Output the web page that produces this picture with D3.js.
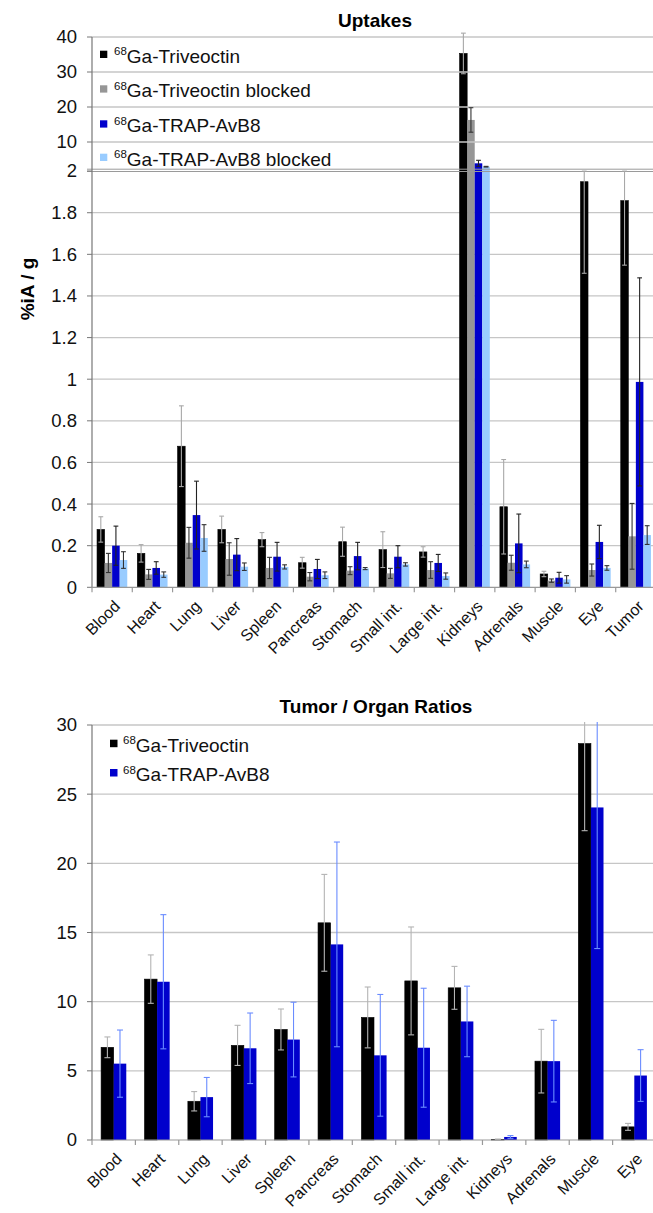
<!DOCTYPE html>
<html><head><meta charset="utf-8">
<script src="https://cdn.jsdelivr.net/npm/d3@7"></script>
<style>
html,body{margin:0;padding:0;background:#fff;}
svg text{font-family:"Liberation Sans",Arial,sans-serif;}
</style></head>
<body>
<script>
// ---------- DATA ----------
const organsUptake = ["Blood","Heart","Lung","Liver","Spleen","Pancreas","Stomach","Small int.","Large int.","Kidneys","Adrenals","Muscle","Eye","Tumor"];
const seriesUptake = ["Ga-Triveoctin","Ga-Triveoctin blocked","Ga-TRAP-AvB8","Ga-TRAP-AvB8 blocked"];
const triveoctin      = [0.278,0.163,0.678,0.278,0.229,0.118,0.219,0.181,0.170,35.3,0.387,0.064,1.949,1.858];
const triveoctinErr   = [0.061,0.042,0.194,0.064,0.034,0.026,0.070,0.086,0.025,5.8,0.227,0.013,0.44,0.31];
const triveoctinBlk   = [0.117,0.062,0.214,0.136,0.093,0.051,0.080,0.067,0.083,16.3,0.118,0.032,0.083,0.245];
const triveoctinBlkErr= [0.046,0.024,0.074,0.078,0.051,0.020,0.019,0.024,0.040,3.5,0.036,0.008,0.029,0.158];
const trap            = [0.200,0.093,0.347,0.157,0.147,0.088,0.150,0.147,0.117,3.91,0.211,0.046,0.218,0.987];
const trapErr         = [0.094,0.030,0.163,0.077,0.069,0.046,0.066,0.053,0.041,0.86,0.141,0.026,0.080,0.50];
const trapBlk         = [0.131,0.061,0.237,0.099,0.098,0.058,0.090,0.110,0.054,2.94,0.110,0.038,0.093,0.251];
const trapBlkErr      = [0.040,0.013,0.064,0.018,0.010,0.016,0.005,0.008,0.015,0.10,0.016,0.018,0.011,0.045];
const uptakeTicksLow  = [0,0.2,0.4,0.6,0.8,1,1.2,1.4,1.6,1.8];
const uptakeTicksHigh = [2,10,20,30,40];

const organsRatio = ["Blood","Heart","Lung","Liver","Spleen","Pancreas","Stomach","Small int.","Large int.","Kidneys","Adrenals","Muscle","Eye"];
const seriesRatio = ["Ga-Triveoctin","Ga-TRAP-AvB8"];
const ratioTriveoctin    = [6.70,11.63,2.80,6.84,7.99,15.70,8.86,11.50,11.00,0.05,5.70,28.66,0.95];
const ratioTriveoctinErr = [0.75,1.75,0.70,1.45,1.48,3.50,2.20,3.90,1.55,0.02,2.30,6.30,0.25];
const ratioTrap          = [5.52,11.44,3.10,6.63,7.26,14.14,6.12,6.67,8.57,0.22,5.70,24.04,4.66];
const ratioTrapErr       = [2.43,4.85,1.42,2.55,2.70,7.40,4.40,4.30,2.55,0.10,2.95,10.20,1.87];
const ratioTicks = [0,5,10,15,20,25,30];

// ---------- SETUP ----------
const svg = d3.select("body").append("svg").attr("width",653).attr("height",1213);
const gridCol = "#c6c6c6";
const TICK_FS = 18.5, LEG_FS = 19, TITLE_FS = 19, CAT_FS = 16;

// ================= TOP CHART =================
const topColors = ["#000000","#969696","#0000cc","#99ccff"];
const topErrCol = ["#a8a8a8","#333333","#222222","#333333"];
const topVals = [triveoctin,triveoctinBlk,trap,trapBlk];
const topErrs = [triveoctinErr,triveoctinBlkErr,trapErr,trapBlkErr];

const xT = d3.scaleBand().domain(organsUptake).range([92,656]);
const xsT = d3.scaleBand().domain(seriesUptake).range([xT.bandwidth()*0.125, xT.bandwidth()*0.875]);
const yLow = d3.scaleLinear().domain([0,2]).range([587.3,171.1]);
const yUp = d3.scaleLinear().domain([2,40]).range([170,37]);
const yf = v => v <= 2 ? yLow(v) : yUp(v);

const gT = svg.append("g");
gT.selectAll("line.gl").data(uptakeTicksLow.slice(1)).join("line")
  .attr("x1",92).attr("x2",656).attr("y1",d=>yLow(d)).attr("y2",d=>yLow(d))
  .attr("stroke",gridCol).attr("stroke-width",1.3);

seriesUptake.forEach((s,si)=>{
  gT.append("g").selectAll("rect").data(organsUptake).join("rect")
    .attr("x",(c)=>xT(c)+xsT(s))
    .attr("width",xsT.bandwidth())
    .attr("y",(c,i)=>yf(topVals[si][i]))
    .attr("height",(c,i)=>yLow(0)-yf(topVals[si][i]))
    .attr("fill",topColors[si])
    .attr("stroke",si===0?"#000":"none").attr("stroke-width",0.6);
});
gT.selectAll("line.gu").data(uptakeTicksHigh.slice(1)).join("line")
  .attr("x1",92).attr("x2",656).attr("y1",d=>yUp(d)).attr("y2",d=>yUp(d))
  .attr("stroke",gridCol).attr("stroke-width",1.3);
[yUp(2)-0.8, yLow(2)+0.4].forEach(yy=>{
  gT.append("line").attr("x1",87).attr("x2",656).attr("y1",yy).attr("y2",yy)
    .attr("stroke","#9a9a9a").attr("stroke-width",1);
});

seriesUptake.forEach((s,si)=>{
  const ge = gT.append("g").attr("stroke",topErrCol[si]).attr("stroke-width",1.1);
  organsUptake.forEach((c,i)=>{
    const v = topVals[si][i], e = topErrs[si][i];
    const cx = xT(c)+xsT(s)+xsT.bandwidth()/2;
    let yHi, yLo;
    if (v <= 2) { yHi = yLow(Math.min(v+e,2)); yLo = yLow(Math.max(v-e,0)); }
    else { yHi = yUp(v+e); yLo = yUp(Math.max(v-e,2)); }
    ge.append("line").attr("x1",cx).attr("x2",cx).attr("y1",yHi).attr("y2",yLo);
    [yHi,yLo].forEach(yy=>ge.append("line").attr("x1",cx-2.4).attr("x2",cx+2.4).attr("y1",yy).attr("y2",yy));
  });
});

gT.append("line").attr("x1",92).attr("x2",92).attr("y1",37).attr("y2",yLow(0)).attr("stroke","#777").attr("stroke-width",1.2);
gT.append("line").attr("x1",92).attr("x2",656).attr("y1",yLow(0)).attr("y2",yLow(0)).attr("stroke","#999").attr("stroke-width",1.2);
gT.selectAll("g.tl").data(uptakeTicksLow).join("g").each(function(d){
  const g = d3.select(this), yy = yLow(d);
  g.append("line").attr("x1",87).attr("x2",92).attr("y1",yy).attr("y2",yy).attr("stroke","#777");
  g.append("text").attr("x",77).attr("y",yy).attr("dy","0.35em").attr("text-anchor","end")
    .attr("font-size",TICK_FS).attr("fill","#111").text(d3.format("~g")(d));
});
gT.selectAll("g.th").data(uptakeTicksHigh).join("g").each(function(d){
  const g = d3.select(this), yy = d===2 ? yUp(2)+1 : yUp(d);
  g.append("line").attr("x1",87).attr("x2",92).attr("y1",yy).attr("y2",yy).attr("stroke","#777");
  g.append("text").attr("x",77).attr("y",yy).attr("dy","0.35em").attr("text-anchor","end")
    .attr("font-size",TICK_FS).attr("fill","#111").text(d);
});
const bT = organsUptake.map(c=>xT(c)).concat([656]);
gT.selectAll("line.xt").data(bT).join("line")
  .attr("x1",d=>d).attr("x2",d=>d).attr("y1",yLow(0)).attr("y2",yLow(0)+5).attr("stroke","#999").attr("stroke-width",1.2);
gT.selectAll("text.xl").data(organsUptake).join("text")
  .attr("transform",d=>`translate(${xT(d)+xT.bandwidth()/2+9},${yLow(0)+20}) rotate(-45)`)
  .attr("text-anchor","end").attr("font-size",CAT_FS).attr("fill","#111").text(d=>d);
gT.append("text").attr("x",375).attr("y",27).attr("text-anchor","middle").attr("font-weight","bold")
  .attr("font-size",TITLE_FS).text("Uptakes");
gT.append("text").attr("transform","translate(34,289) rotate(-90)").attr("text-anchor","middle")
  .attr("font-weight","bold").attr("font-size",TITLE_FS).text("%iA / g");
const legTopY = [62.7,97.3,132.3,165.7];
seriesUptake.forEach((s,si)=>{
  gT.append("rect").attr("x",100).attr("y",legTopY[si]-12).attr("width",7.3).attr("height",7.3).attr("fill",topColors[si]);
  const t = gT.append("text").attr("x",114).attr("y",legTopY[si]).attr("fill","#111");
  t.append("tspan").attr("font-size",11.5).attr("dy",-7.5).text("68");
  t.append("tspan").attr("font-size",LEG_FS).attr("dy",7.5).text(s);
});

// ================= BOTTOM CHART =================
const botColors = ["#000000","#0000cc"];
const botErrCol = ["#b4b4b4","#6a8cff"];
const botVals = [ratioTriveoctin, ratioTrap];
const botErrs = [ratioTriveoctinErr, ratioTrapErr];
const xB = d3.scaleBand().domain(organsRatio).range([92,656]);
const xsB = d3.scaleBand().domain(seriesRatio).range([xB.bandwidth()*0.21, xB.bandwidth()*0.79]);
const yB = d3.scaleLinear().domain([0,30]).range([1140,725]);
const gB = svg.append("g");
gB.selectAll("line.g").data(ratioTicks.slice(1)).join("line")
  .attr("x1",92).attr("x2",656).attr("y1",d=>yB(d)).attr("y2",d=>yB(d))
  .attr("stroke",gridCol).attr("stroke-width",1.3);
seriesRatio.forEach((s,si)=>{
  gB.append("g").selectAll("rect").data(organsRatio).join("rect")
    .attr("x",c=>xB(c)+xsB(s)).attr("width",xsB.bandwidth())
    .attr("y",(c,i)=>yB(botVals[si][i])).attr("height",(c,i)=>yB(0)-yB(botVals[si][i]))
    .attr("fill",botColors[si]).attr("stroke",si===0?"#000":"none").attr("stroke-width",0.6);
});
seriesRatio.forEach((s,si)=>{
  const ge = gB.append("g").attr("stroke",botErrCol[si]).attr("stroke-width",1.1);
  organsRatio.forEach((c,i)=>{
    const v = botVals[si][i], e = botErrs[si][i];
    const cx = xB(c)+xsB(s)+xsB.bandwidth()/2;
    const clipped = v+e > 30.2;
    const yHi = clipped ? 722 : yB(v+e), yLo = yB(Math.max(v-e,0));
    ge.append("line").attr("x1",cx).attr("x2",cx).attr("y1",yHi).attr("y2",yLo);
    if(!clipped) ge.append("line").attr("x1",cx-3).attr("x2",cx+3).attr("y1",yHi).attr("y2",yHi);
    ge.append("line").attr("x1",cx-3).attr("x2",cx+3).attr("y1",yLo).attr("y2",yLo);
  });
});
gB.append("line").attr("x1",92).attr("x2",92).attr("y1",725).attr("y2",1140).attr("stroke","#777").attr("stroke-width",1.2);
gB.append("line").attr("x1",92).attr("x2",656).attr("y1",1140).attr("y2",1140).attr("stroke","#999").attr("stroke-width",1.2);
gB.selectAll("g.t").data(ratioTicks).join("g").each(function(d){
  const g = d3.select(this), yy = yB(d);
  g.append("line").attr("x1",87).attr("x2",92).attr("y1",yy).attr("y2",yy).attr("stroke","#777");
  g.append("text").attr("x",77).attr("y",yy).attr("dy","0.35em").attr("text-anchor","end")
    .attr("font-size",TICK_FS).attr("fill","#111").text(d);
});
const bB = organsRatio.map(c=>xB(c)).concat([656]);
gB.selectAll("line.xt").data(bB).join("line")
  .attr("x1",d=>d).attr("x2",d=>d).attr("y1",1140).attr("y2",1145).attr("stroke","#999").attr("stroke-width",1.2);
gB.selectAll("text.xl").data(organsRatio).join("text")
  .attr("transform",d=>`translate(${xB(d)+xB.bandwidth()/2+9},${1140+20}) rotate(-45)`)
  .attr("text-anchor","end").attr("font-size",CAT_FS).attr("fill","#111").text(d=>d);
gB.append("text").attr("x",376).attr("y",713).attr("text-anchor","middle").attr("font-weight","bold")
  .attr("font-size",TITLE_FS).text("Tumor / Organ Ratios");
const legBotY = [751.7,781];
seriesRatio.forEach((s,si)=>{
  gB.append("rect").attr("x",110).attr("y",legBotY[si]-12).attr("width",7.5).attr("height",7.5).attr("fill",botColors[si]);
  const t = gB.append("text").attr("x",123).attr("y",legBotY[si]).attr("fill","#111");
  t.append("tspan").attr("font-size",11.5).attr("dy",-7.5).text("68");
  t.append("tspan").attr("font-size",LEG_FS).attr("dy",7.5).text(s);
});
</script>
</body></html>
